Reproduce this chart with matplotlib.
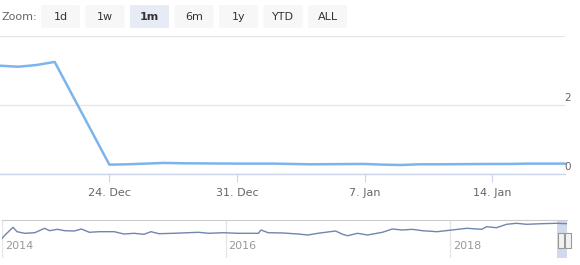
import matplotlib
matplotlib.use("Agg")
import matplotlib.pyplot as plt
import matplotlib.dates as mdates
from matplotlib.patches import FancyBboxPatch, Rectangle
import pandas as pd

# ---------------- data ----------------
main_dates = ["2018-12-18", "2018-12-19", "2018-12-20", "2018-12-21", "2018-12-24",
              "2018-12-25", "2018-12-26", "2018-12-27", "2018-12-28", "2018-12-31",
              "2019-01-01", "2019-01-02", "2019-01-03", "2019-01-04", "2019-01-07",
              "2019-01-08", "2019-01-09", "2019-01-10", "2019-01-11", "2019-01-14",
              "2019-01-15", "2019-01-16", "2019-01-17", "2019-01-18"]
main_values = [3.15, 3.12, 3.17, 3.26, 0.28,
               0.29, 0.31, 0.33, 0.32, 0.31,
               0.31, 0.31, 0.30, 0.29, 0.30,
               0.28, 0.27, 0.29, 0.29, 0.30,
               0.30, 0.31, 0.31, 0.31]
x_ticks = ["2018-12-24", "2018-12-31", "2019-01-07", "2019-01-14"]
x_tick_labels = ["24. Dec", "31. Dec", "7. Jan", "14. Jan"]
y_ticks = [0, 2, 4]
y_tick_labels = ["0", "2", ""]

nav_dates = ["2014-01-01", "2014-01-11", "2014-02-06", "2014-02-19", "2014-03-16",
             "2014-04-18", "2014-05-20", "2014-06-05", "2014-07-01", "2014-07-24",
             "2014-08-25", "2014-09-17", "2014-10-13", "2014-11-14", "2015-01-02",
             "2015-02-03", "2015-03-08", "2015-04-09", "2015-05-02", "2015-05-28",
             "2015-07-15", "2015-09-01", "2015-10-04", "2015-11-06", "2015-12-24",
             "2016-02-10", "2016-04-16", "2016-04-25", "2016-05-18", "2016-07-06",
             "2016-08-23", "2016-09-25", "2016-10-27", "2016-12-24", "2017-01-16",
             "2017-02-01", "2017-03-06", "2017-04-07", "2017-05-26", "2017-06-27",
             "2017-07-30", "2017-08-31", "2017-10-03", "2017-11-20", "2018-01-08",
             "2018-02-25", "2018-04-15", "2018-05-01", "2018-06-02", "2018-07-05",
             "2018-08-06", "2018-09-08", "2018-10-26", "2018-12-14", "2019-01-18"]
nav_values = [1.7, 5.0, 12.7, 8.3, 6.7,
              7.3, 11.7, 9.3, 10.7, 9.3,
              9.0, 11.0, 7.7, 8.3, 8.3,
              6.0, 6.7, 5.7, 8.3, 6.3,
              6.7, 7.3, 7.7, 6.7, 7.3,
              6.7, 6.7, 10.0, 7.3, 7.0,
              6.0, 5.0, 6.7, 9.0, 5.7,
              4.3, 6.7, 5.0, 7.7, 11.0,
              10.0, 10.7, 9.3, 8.3, 10.0,
              11.7, 10.7, 13.3, 12.3, 15.7,
              16.7, 15.7, 16.3, 16.7, 16.3]
nav_ticks = ["2014-01-01", "2016-01-01", "2018-01-01"]
nav_tick_labels = ["2014", "2016", "2018"]

buttons = ["1d", "1w", "1m", "6m", "1y", "YTD", "ALL"]
selected_button = "1m"

# ---------------- figure ----------------
W, H = 580, 265
fig = plt.figure(figsize=(W / 100, H / 100), dpi=100)
plt.rcParams['font.family'] = ['DejaVu Sans']

def rect(x0, y0, x1, y1):
    return [x0 / W, 1 - y1 / H, (x1 - x0) / W, (y1 - y0) / H]

md = pd.to_datetime(main_dates)
ax = fig.add_axes(rect(0, 36.4, 565, 174.3))
ax.plot(md, main_values, color="#7cb5ec", lw=1.8, solid_joinstyle="round", clip_on=False)
ax.set_xlim(pd.Timestamp("2018-12-18"), pd.Timestamp("2019-01-18"))
ax.set_ylim(0, 4)
for s in ["top", "left", "right"]:
    ax.spines[s].set_visible(False)
ax.spines["bottom"].set_color("#ccd6eb")
ax.spines["bottom"].set_linewidth(1)
ax.set_yticks(y_ticks)
ax.set_yticklabels([])
ax.tick_params(axis="y", length=0)
for v in y_ticks:
    ax.axhline(v, color="#e6e6e6", lw=1, zorder=0, xmax=1.0)
for v, lab in zip(y_ticks, y_tick_labels):
    if lab:
        ax.annotate(lab, xy=(1, v), xycoords=("axes fraction", "data"),
                    xytext=(4.5, 2), textcoords="offset points",
                    ha="right", va="bottom", fontsize=7.5, color="#666666")
ax.set_xticks(pd.to_datetime(x_ticks))
ax.set_xticklabels(x_tick_labels, fontsize=8, color="#666666")
ax.tick_params(axis="x", length=6, color="#ccd6eb", pad=4)
ax.set_facecolor("none")

# ---------------- navigator ----------------
nd = pd.to_datetime(nav_dates)
nax = fig.add_axes(rect(2, 220, 567, 258))
nax.plot(nd, nav_values, color="#6f86ad", lw=1)
nax.set_xlim(pd.Timestamp("2014-01-01"), pd.Timestamp("2019-01-18"))
nax.set_ylim(-18, 20)
for s in ["left", "right", "bottom"]:
    nax.spines[s].set_visible(False)
nax.spines["top"].set_color("#cccccc")
nax.set_yticks([])
nax.set_xticks([])
for d, lab in zip(pd.to_datetime(nav_ticks), nav_tick_labels):
    nax.axvline(d, color="#e6e6e6", lw=1, zorder=0)
    nax.annotate(lab, xy=(d, 0), xycoords=("data", "axes fraction"),
                 xytext=(2, 5), textcoords="offset points",
                 ha="left", va="bottom", fontsize=8, color="#999999")
# selected range mask
sel0 = mdates.date2num(pd.Timestamp("2018-12-18"))
sel1 = mdates.date2num(pd.Timestamp("2019-01-18"))
nax.axvspan(sel0, sel1, color="#6685c2", alpha=0.3, lw=0)
fig.patches.append(Rectangle((557.5 / W, 1 - 248 / H), 6 / W, 15 / H, transform=fig.transFigure,
                             facecolor="#f2f2f2", edgecolor="#999999", lw=0.8))
fig.patches.append(Rectangle((564.5 / W, 1 - 248 / H), 6 / W, 15 / H, transform=fig.transFigure,
                             facecolor="#f2f2f2", edgecolor="#999999", lw=0.8))

# ---------------- range selector ----------------
fig.text(2 / W, 1 - 16.5 / H, "Zoom:", fontsize=8, color="#666666", va="center", ha="left")
for i, b in enumerate(buttons):
    x0 = 41 + i * 44.5
    sel = (b == selected_button)
    fig.patches.append(FancyBboxPatch((x0 / W, 1 - 28 / H), 39 / W, 23 / H,
                                      boxstyle="round,pad=0,rounding_size=0.004",
                                      transform=fig.transFigure,
                                      facecolor="#e6ebf5" if sel else "#f7f7f7",
                                      edgecolor="none"))
    fig.text((x0 + 19.5) / W, 1 - 16.5 / H, b, fontsize=8, color="#333333",
             fontweight="bold" if sel else "normal", ha="center", va="center")

fig.savefig("out.png", dpi=100)
